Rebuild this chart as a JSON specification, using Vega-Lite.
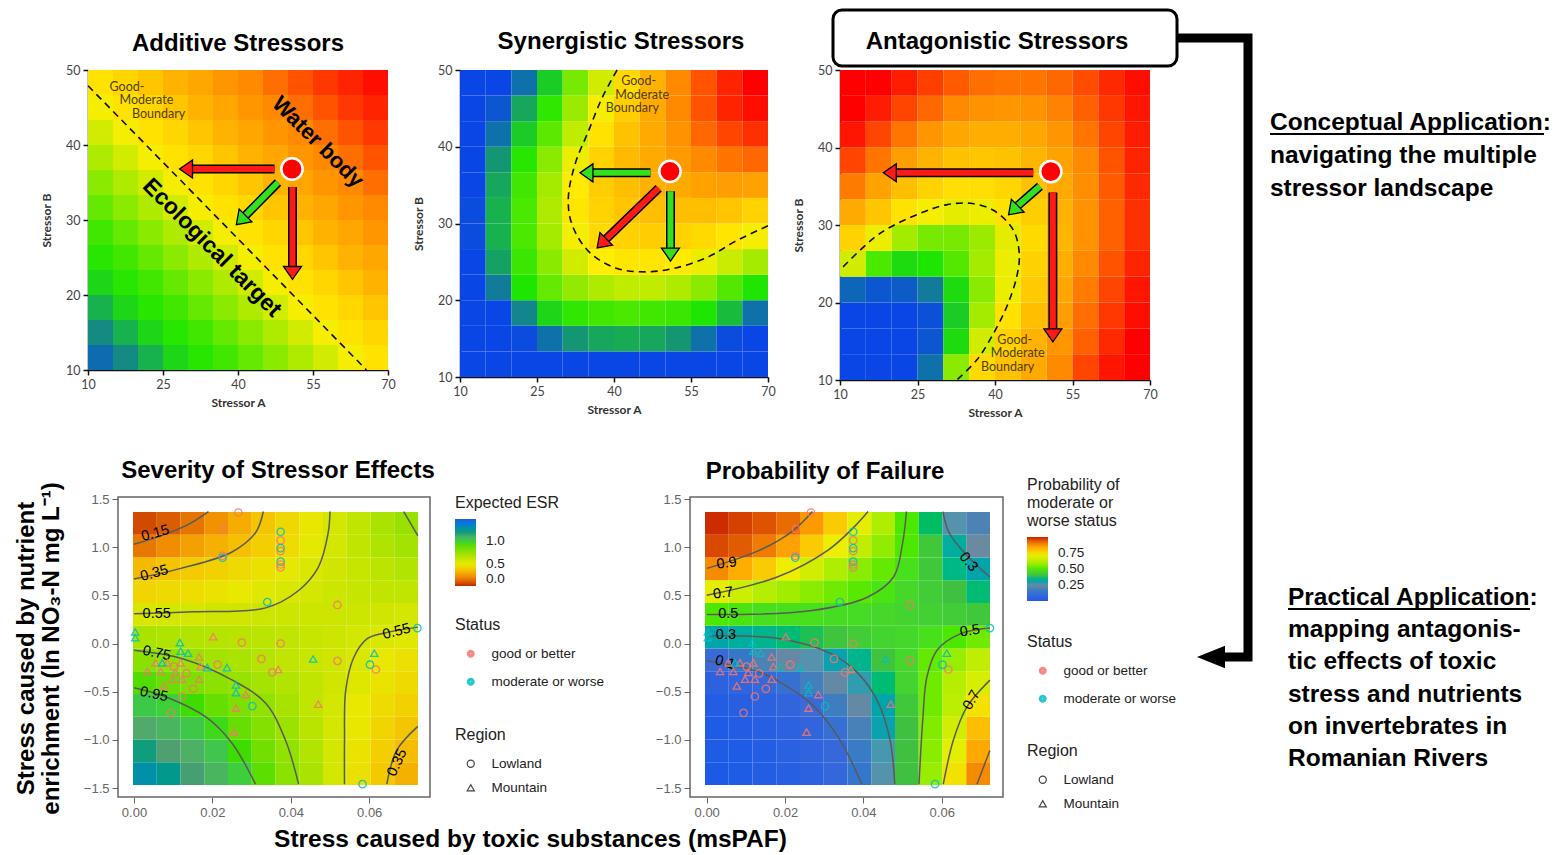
{
"$schema":"https://vega.github.io/schema/vega-lite/v6.json",
"background":"white",
"padding":{"left":13,"top":8,"right":0,"bottom":0},
"bounds":"flush",
"spacing":427,
"resolve":{"scale":{"color":"independent","fill":"independent","stroke":"independent","shape":"independent"}},
"config":{
 "font":"Liberation Sans",
 "view":{"stroke":null},
 "axis":{"grid":false,"labelFlush":false},
 "title":{"fontSize":24,"fontWeight":"bold","color":"#000","frame":"group","anchor":"middle","baseline":"alphabetic"},
 "legend":{"padding":0,"titleFontWeight":"normal","titleFontSize":16,"titleColor":"#222","labelFontSize":13.5,"labelColor":"#222","titleFont":"Liberation Sans","labelFont":"Liberation Sans","gradientStrokeWidth":0,"titleLimit":300,"labelLimit":300}
},
"datasets":{
"ad":[
{"i":0,"j":0,"v":0.07},{"i":1,"j":0,"v":0.13},{"i":2,"j":0,"v":0.2},{"i":3,"j":0,"v":0.27},{"i":4,"j":0,"v":0.31},{"i":5,"j":0,"v":0.34},{"i":6,"j":0,"v":0.38},{"i":7,"j":0,"v":0.42},{"i":8,"j":0,"v":0.46},{"i":9,"j":0,"v":0.5},{"i":10,"j":0,"v":0.54},{"i":11,"j":0,"v":0.58},
{"i":0,"j":1,"v":0.13},{"i":1,"j":1,"v":0.2},{"i":2,"j":1,"v":0.27},{"i":3,"j":1,"v":0.31},{"i":4,"j":1,"v":0.34},{"i":5,"j":1,"v":0.38},{"i":6,"j":1,"v":0.42},{"i":7,"j":1,"v":0.46},{"i":8,"j":1,"v":0.5},{"i":9,"j":1,"v":0.54},{"i":10,"j":1,"v":0.58},{"i":11,"j":1,"v":0.61},
{"i":0,"j":2,"v":0.2},{"i":1,"j":2,"v":0.27},{"i":2,"j":2,"v":0.31},{"i":3,"j":2,"v":0.34},{"i":4,"j":2,"v":0.38},{"i":5,"j":2,"v":0.42},{"i":6,"j":2,"v":0.46},{"i":7,"j":2,"v":0.5},{"i":8,"j":2,"v":0.54},{"i":9,"j":2,"v":0.58},{"i":10,"j":2,"v":0.61},{"i":11,"j":2,"v":0.65},
{"i":0,"j":3,"v":0.27},{"i":1,"j":3,"v":0.31},{"i":2,"j":3,"v":0.34},{"i":3,"j":3,"v":0.38},{"i":4,"j":3,"v":0.42},{"i":5,"j":3,"v":0.46},{"i":6,"j":3,"v":0.5},{"i":7,"j":3,"v":0.54},{"i":8,"j":3,"v":0.58},{"i":9,"j":3,"v":0.61},{"i":10,"j":3,"v":0.65},{"i":11,"j":3,"v":0.7},
{"i":0,"j":4,"v":0.31},{"i":1,"j":4,"v":0.34},{"i":2,"j":4,"v":0.38},{"i":3,"j":4,"v":0.42},{"i":4,"j":4,"v":0.46},{"i":5,"j":4,"v":0.5},{"i":6,"j":4,"v":0.54},{"i":7,"j":4,"v":0.58},{"i":8,"j":4,"v":0.61},{"i":9,"j":4,"v":0.65},{"i":10,"j":4,"v":0.7},{"i":11,"j":4,"v":0.73},
{"i":0,"j":5,"v":0.34},{"i":1,"j":5,"v":0.38},{"i":2,"j":5,"v":0.42},{"i":3,"j":5,"v":0.46},{"i":4,"j":5,"v":0.5},{"i":5,"j":5,"v":0.54},{"i":6,"j":5,"v":0.58},{"i":7,"j":5,"v":0.61},{"i":8,"j":5,"v":0.65},{"i":9,"j":5,"v":0.7},{"i":10,"j":5,"v":0.73},{"i":11,"j":5,"v":0.77},
{"i":0,"j":6,"v":0.38},{"i":1,"j":6,"v":0.42},{"i":2,"j":6,"v":0.46},{"i":3,"j":6,"v":0.5},{"i":4,"j":6,"v":0.54},{"i":5,"j":6,"v":0.58},{"i":6,"j":6,"v":0.61},{"i":7,"j":6,"v":0.65},{"i":8,"j":6,"v":0.7},{"i":9,"j":6,"v":0.73},{"i":10,"j":6,"v":0.77},{"i":11,"j":6,"v":0.8},
{"i":0,"j":7,"v":0.42},{"i":1,"j":7,"v":0.46},{"i":2,"j":7,"v":0.5},{"i":3,"j":7,"v":0.54},{"i":4,"j":7,"v":0.58},{"i":5,"j":7,"v":0.61},{"i":6,"j":7,"v":0.65},{"i":7,"j":7,"v":0.7},{"i":8,"j":7,"v":0.73},{"i":9,"j":7,"v":0.77},{"i":10,"j":7,"v":0.8},{"i":11,"j":7,"v":0.84},
{"i":0,"j":8,"v":0.46},{"i":1,"j":8,"v":0.5},{"i":2,"j":8,"v":0.54},{"i":3,"j":8,"v":0.58},{"i":4,"j":8,"v":0.61},{"i":5,"j":8,"v":0.65},{"i":6,"j":8,"v":0.7},{"i":7,"j":8,"v":0.73},{"i":8,"j":8,"v":0.77},{"i":9,"j":8,"v":0.8},{"i":10,"j":8,"v":0.84},{"i":11,"j":8,"v":0.88},
{"i":0,"j":9,"v":0.5},{"i":1,"j":9,"v":0.54},{"i":2,"j":9,"v":0.58},{"i":3,"j":9,"v":0.61},{"i":4,"j":9,"v":0.65},{"i":5,"j":9,"v":0.7},{"i":6,"j":9,"v":0.73},{"i":7,"j":9,"v":0.77},{"i":8,"j":9,"v":0.8},{"i":9,"j":9,"v":0.84},{"i":10,"j":9,"v":0.88},{"i":11,"j":9,"v":0.92},
{"i":0,"j":10,"v":0.54},{"i":1,"j":10,"v":0.58},{"i":2,"j":10,"v":0.61},{"i":3,"j":10,"v":0.65},{"i":4,"j":10,"v":0.7},{"i":5,"j":10,"v":0.73},{"i":6,"j":10,"v":0.77},{"i":7,"j":10,"v":0.8},{"i":8,"j":10,"v":0.84},{"i":9,"j":10,"v":0.88},{"i":10,"j":10,"v":0.92},{"i":11,"j":10,"v":0.95},
{"i":0,"j":11,"v":0.58},{"i":1,"j":11,"v":0.61},{"i":2,"j":11,"v":0.65},{"i":3,"j":11,"v":0.7},{"i":4,"j":11,"v":0.73},{"i":5,"j":11,"v":0.77},{"i":6,"j":11,"v":0.8},{"i":7,"j":11,"v":0.84},{"i":8,"j":11,"v":0.88},{"i":9,"j":11,"v":0.92},{"i":10,"j":11,"v":0.95},{"i":11,"j":11,"v":0.98}
],
"sy":[
{"i":0,"j":0,"v":0},{"i":1,"j":0,"v":0},{"i":2,"j":0,"v":0},{"i":3,"j":0,"v":0},{"i":4,"j":0,"v":0},{"i":5,"j":0,"v":0},{"i":6,"j":0,"v":0},{"i":7,"j":0,"v":0},{"i":8,"j":0,"v":0},{"i":9,"j":0,"v":0},{"i":10,"j":0,"v":0},{"i":11,"j":0,"v":0},
{"i":0,"j":1,"v":0},{"i":1,"j":1,"v":0},{"i":2,"j":1,"v":0.01},{"i":3,"j":1,"v":0.08},{"i":4,"j":1,"v":0.15},{"i":5,"j":1,"v":0.18},{"i":6,"j":1,"v":0.19},{"i":7,"j":1,"v":0.18},{"i":8,"j":1,"v":0.15},{"i":9,"j":1,"v":0.08},{"i":10,"j":1,"v":0.01},{"i":11,"j":1,"v":0},
{"i":0,"j":2,"v":0},{"i":1,"j":2,"v":0},{"i":2,"j":2,"v":0.12},{"i":3,"j":2,"v":0.27},{"i":4,"j":2,"v":0.32},{"i":5,"j":2,"v":0.34},{"i":6,"j":2,"v":0.35},{"i":7,"j":2,"v":0.34},{"i":8,"j":2,"v":0.33},{"i":9,"j":2,"v":0.3},{"i":10,"j":2,"v":0.22},{"i":11,"j":2,"v":0.08},
{"i":0,"j":3,"v":0},{"i":1,"j":3,"v":0.1},{"i":2,"j":3,"v":0.3},{"i":3,"j":3,"v":0.38},{"i":4,"j":3,"v":0.43},{"i":5,"j":3,"v":0.46},{"i":6,"j":3,"v":0.48},{"i":7,"j":3,"v":0.48},{"i":8,"j":3,"v":0.46},{"i":9,"j":3,"v":0.42},{"i":10,"j":3,"v":0.36},{"i":11,"j":3,"v":0.3},
{"i":0,"j":4,"v":0},{"i":1,"j":4,"v":0.17},{"i":2,"j":4,"v":0.33},{"i":3,"j":4,"v":0.42},{"i":4,"j":4,"v":0.5},{"i":5,"j":4,"v":0.55},{"i":6,"j":4,"v":0.57},{"i":7,"j":4,"v":0.57},{"i":8,"j":4,"v":0.56},{"i":9,"j":4,"v":0.53},{"i":10,"j":4,"v":0.49},{"i":11,"j":4,"v":0.45},
{"i":0,"j":5,"v":0.01},{"i":1,"j":5,"v":0.2},{"i":2,"j":5,"v":0.35},{"i":3,"j":5,"v":0.45},{"i":4,"j":5,"v":0.54},{"i":5,"j":5,"v":0.6},{"i":6,"j":5,"v":0.62},{"i":7,"j":5,"v":0.63},{"i":8,"j":5,"v":0.62},{"i":9,"j":5,"v":0.6},{"i":10,"j":5,"v":0.57},{"i":11,"j":5,"v":0.54},
{"i":0,"j":6,"v":0.01},{"i":1,"j":6,"v":0.2},{"i":2,"j":6,"v":0.35},{"i":3,"j":6,"v":0.46},{"i":4,"j":6,"v":0.57},{"i":5,"j":6,"v":0.62},{"i":6,"j":6,"v":0.65},{"i":7,"j":6,"v":0.67},{"i":8,"j":6,"v":0.67},{"i":9,"j":6,"v":0.67},{"i":10,"j":6,"v":0.65},{"i":11,"j":6,"v":0.62},
{"i":0,"j":7,"v":0},{"i":1,"j":7,"v":0.18},{"i":2,"j":7,"v":0.34},{"i":3,"j":7,"v":0.45},{"i":4,"j":7,"v":0.56},{"i":5,"j":7,"v":0.63},{"i":6,"j":7,"v":0.67},{"i":7,"j":7,"v":0.7},{"i":8,"j":7,"v":0.72},{"i":9,"j":7,"v":0.74},{"i":10,"j":7,"v":0.75},{"i":11,"j":7,"v":0.74},
{"i":0,"j":8,"v":0},{"i":1,"j":8,"v":0.15},{"i":2,"j":8,"v":0.31},{"i":3,"j":8,"v":0.42},{"i":4,"j":8,"v":0.53},{"i":5,"j":8,"v":0.62},{"i":6,"j":8,"v":0.68},{"i":7,"j":8,"v":0.72},{"i":8,"j":8,"v":0.76},{"i":9,"j":8,"v":0.8},{"i":10,"j":8,"v":0.83},{"i":11,"j":8,"v":0.85},
{"i":0,"j":9,"v":0},{"i":1,"j":9,"v":0.08},{"i":2,"j":9,"v":0.25},{"i":3,"j":9,"v":0.37},{"i":4,"j":9,"v":0.48},{"i":5,"j":9,"v":0.58},{"i":6,"j":9,"v":0.66},{"i":7,"j":9,"v":0.72},{"i":8,"j":9,"v":0.78},{"i":9,"j":9,"v":0.85},{"i":10,"j":9,"v":0.9},{"i":11,"j":9,"v":0.93},
{"i":0,"j":10,"v":0},{"i":1,"j":10,"v":0.03},{"i":2,"j":10,"v":0.18},{"i":3,"j":10,"v":0.32},{"i":4,"j":10,"v":0.44},{"i":5,"j":10,"v":0.54},{"i":6,"j":10,"v":0.63},{"i":7,"j":10,"v":0.72},{"i":8,"j":10,"v":0.8},{"i":9,"j":10,"v":0.88},{"i":10,"j":10,"v":0.95},{"i":11,"j":10,"v":0.98},
{"i":0,"j":11,"v":0},{"i":1,"j":11,"v":0},{"i":2,"j":11,"v":0.08},{"i":3,"j":11,"v":0.25},{"i":4,"j":11,"v":0.4},{"i":5,"j":11,"v":0.5},{"i":6,"j":11,"v":0.6},{"i":7,"j":11,"v":0.7},{"i":8,"j":11,"v":0.8},{"i":9,"j":11,"v":0.88},{"i":10,"j":11,"v":0.95},{"i":11,"j":11,"v":1}
],
"an":[
{"i":0,"j":0,"v":0},{"i":1,"j":0,"v":0},{"i":2,"j":0,"v":0},{"i":3,"j":0,"v":0.08},{"i":4,"j":0,"v":0.42},{"i":5,"j":0,"v":0.6},{"i":6,"j":0,"v":0.66},{"i":7,"j":0,"v":0.72},{"i":8,"j":0,"v":0.8},{"i":9,"j":0,"v":0.9},{"i":10,"j":0,"v":0.97},{"i":11,"j":0,"v":1},
{"i":0,"j":1,"v":0},{"i":1,"j":1,"v":0},{"i":2,"j":1,"v":0},{"i":3,"j":1,"v":0.03},{"i":4,"j":1,"v":0.28},{"i":5,"j":1,"v":0.5},{"i":6,"j":1,"v":0.62},{"i":7,"j":1,"v":0.7},{"i":8,"j":1,"v":0.77},{"i":9,"j":1,"v":0.86},{"i":10,"j":1,"v":0.94},{"i":11,"j":1,"v":1},
{"i":0,"j":2,"v":0},{"i":1,"j":2,"v":0},{"i":2,"j":2,"v":0},{"i":3,"j":2,"v":0.02},{"i":4,"j":2,"v":0.25},{"i":5,"j":2,"v":0.45},{"i":6,"j":2,"v":0.58},{"i":7,"j":2,"v":0.67},{"i":8,"j":2,"v":0.75},{"i":9,"j":2,"v":0.84},{"i":10,"j":2,"v":0.92},{"i":11,"j":2,"v":0.98},
{"i":0,"j":3,"v":0.06},{"i":1,"j":3,"v":0.03},{"i":2,"j":3,"v":0.04},{"i":3,"j":3,"v":0.1},{"i":4,"j":3,"v":0.28},{"i":5,"j":3,"v":0.42},{"i":6,"j":3,"v":0.53},{"i":7,"j":3,"v":0.64},{"i":8,"j":3,"v":0.73},{"i":9,"j":3,"v":0.82},{"i":10,"j":3,"v":0.9},{"i":11,"j":3,"v":0.97},
{"i":0,"j":4,"v":0.5},{"i":1,"j":4,"v":0.35},{"i":2,"j":4,"v":0.28},{"i":3,"j":4,"v":0.3},{"i":4,"j":4,"v":0.36},{"i":5,"j":4,"v":0.45},{"i":6,"j":4,"v":0.53},{"i":7,"j":4,"v":0.62},{"i":8,"j":4,"v":0.71},{"i":9,"j":4,"v":0.8},{"i":10,"j":4,"v":0.88},{"i":11,"j":4,"v":0.95},
{"i":0,"j":5,"v":0.62},{"i":1,"j":5,"v":0.53},{"i":2,"j":5,"v":0.45},{"i":3,"j":5,"v":0.4},{"i":4,"j":5,"v":0.4},{"i":5,"j":5,"v":0.44},{"i":6,"j":5,"v":0.52},{"i":7,"j":5,"v":0.6},{"i":8,"j":5,"v":0.69},{"i":9,"j":5,"v":0.78},{"i":10,"j":5,"v":0.86},{"i":11,"j":5,"v":0.93},
{"i":0,"j":6,"v":0.72},{"i":1,"j":6,"v":0.65},{"i":2,"j":6,"v":0.58},{"i":3,"j":6,"v":0.54},{"i":4,"j":6,"v":0.52},{"i":5,"j":6,"v":0.53},{"i":6,"j":6,"v":0.58},{"i":7,"j":6,"v":0.63},{"i":8,"j":6,"v":0.7},{"i":9,"j":6,"v":0.78},{"i":10,"j":6,"v":0.86},{"i":11,"j":6,"v":0.93},
{"i":0,"j":7,"v":0.82},{"i":1,"j":7,"v":0.74},{"i":2,"j":7,"v":0.67},{"i":3,"j":7,"v":0.62},{"i":4,"j":7,"v":0.59},{"i":5,"j":7,"v":0.59},{"i":6,"j":7,"v":0.61},{"i":7,"j":7,"v":0.66},{"i":8,"j":7,"v":0.72},{"i":9,"j":7,"v":0.79},{"i":10,"j":7,"v":0.87},{"i":11,"j":7,"v":0.94},
{"i":0,"j":8,"v":0.9},{"i":1,"j":8,"v":0.83},{"i":2,"j":8,"v":0.75},{"i":3,"j":8,"v":0.7},{"i":4,"j":8,"v":0.66},{"i":5,"j":8,"v":0.65},{"i":6,"j":8,"v":0.66},{"i":7,"j":8,"v":0.69},{"i":8,"j":8,"v":0.74},{"i":9,"j":8,"v":0.8},{"i":10,"j":8,"v":0.88},{"i":11,"j":8,"v":0.95},
{"i":0,"j":9,"v":0.97},{"i":1,"j":9,"v":0.9},{"i":2,"j":9,"v":0.83},{"i":3,"j":9,"v":0.77},{"i":4,"j":9,"v":0.73},{"i":5,"j":9,"v":0.71},{"i":6,"j":9,"v":0.71},{"i":7,"j":9,"v":0.73},{"i":8,"j":9,"v":0.77},{"i":9,"j":9,"v":0.83},{"i":10,"j":9,"v":0.9},{"i":11,"j":9,"v":0.96},
{"i":0,"j":10,"v":1},{"i":1,"j":10,"v":0.96},{"i":2,"j":10,"v":0.9},{"i":3,"j":10,"v":0.85},{"i":4,"j":10,"v":0.8},{"i":5,"j":10,"v":0.78},{"i":6,"j":10,"v":0.77},{"i":7,"j":10,"v":0.78},{"i":8,"j":10,"v":0.81},{"i":9,"j":10,"v":0.86},{"i":10,"j":10,"v":0.92},{"i":11,"j":10,"v":0.97},
{"i":0,"j":11,"v":1},{"i":1,"j":11,"v":1},{"i":2,"j":11,"v":0.96},{"i":3,"j":11,"v":0.91},{"i":4,"j":11,"v":0.87},{"i":5,"j":11,"v":0.84},{"i":6,"j":11,"v":0.83},{"i":7,"j":11,"v":0.83},{"i":8,"j":11,"v":0.85},{"i":9,"j":11,"v":0.89},{"i":10,"j":11,"v":0.94},{"i":11,"j":11,"v":0.98}
],
"eh":[
{"i":0,"j":0,"v":1.3},{"i":1,"j":0,"v":1.24},{"i":2,"j":0,"v":1.17},{"i":3,"j":0,"v":1.08},{"i":4,"j":0,"v":1.0},{"i":5,"j":0,"v":0.9},{"i":6,"j":0,"v":0.78},{"i":7,"j":0,"v":0.68},{"i":8,"j":0,"v":0.56},{"i":9,"j":0,"v":0.47},{"i":10,"j":0,"v":0.37},{"i":11,"j":0,"v":0.3},
{"i":0,"j":1,"v":1.2},{"i":1,"j":1,"v":1.16},{"i":2,"j":1,"v":1.1},{"i":3,"j":1,"v":1.03},{"i":4,"j":1,"v":0.95},{"i":5,"j":1,"v":0.85},{"i":6,"j":1,"v":0.76},{"i":7,"j":1,"v":0.66},{"i":8,"j":1,"v":0.56},{"i":9,"j":1,"v":0.48},{"i":10,"j":1,"v":0.39},{"i":11,"j":1,"v":0.33},
{"i":0,"j":2,"v":1.12},{"i":1,"j":2,"v":1.08},{"i":2,"j":2,"v":1.02},{"i":3,"j":2,"v":0.96},{"i":4,"j":2,"v":0.88},{"i":5,"j":2,"v":0.8},{"i":6,"j":2,"v":0.73},{"i":7,"j":2,"v":0.64},{"i":8,"j":2,"v":0.56},{"i":9,"j":2,"v":0.49},{"i":10,"j":2,"v":0.42},{"i":11,"j":2,"v":0.36},
{"i":0,"j":3,"v":1.02},{"i":1,"j":3,"v":0.99},{"i":2,"j":3,"v":0.95},{"i":3,"j":3,"v":0.88},{"i":4,"j":3,"v":0.82},{"i":5,"j":3,"v":0.76},{"i":6,"j":3,"v":0.69},{"i":7,"j":3,"v":0.62},{"i":8,"j":3,"v":0.56},{"i":9,"j":3,"v":0.5},{"i":10,"j":3,"v":0.45},{"i":11,"j":3,"v":0.41},
{"i":0,"j":4,"v":0.92},{"i":1,"j":4,"v":0.87},{"i":2,"j":4,"v":0.82},{"i":3,"j":4,"v":0.78},{"i":4,"j":4,"v":0.74},{"i":5,"j":4,"v":0.7},{"i":6,"j":4,"v":0.66},{"i":7,"j":4,"v":0.62},{"i":8,"j":4,"v":0.57},{"i":9,"j":4,"v":0.53},{"i":10,"j":4,"v":0.48},{"i":11,"j":4,"v":0.44},
{"i":0,"j":5,"v":0.79},{"i":1,"j":5,"v":0.76},{"i":2,"j":5,"v":0.74},{"i":3,"j":5,"v":0.71},{"i":4,"j":5,"v":0.68},{"i":5,"j":5,"v":0.65},{"i":6,"j":5,"v":0.62},{"i":7,"j":5,"v":0.59},{"i":8,"j":5,"v":0.57},{"i":9,"j":5,"v":0.54},{"i":10,"j":5,"v":0.5},{"i":11,"j":5,"v":0.47},
{"i":0,"j":6,"v":0.68},{"i":1,"j":6,"v":0.67},{"i":2,"j":6,"v":0.66},{"i":3,"j":6,"v":0.65},{"i":4,"j":6,"v":0.64},{"i":5,"j":6,"v":0.63},{"i":6,"j":6,"v":0.62},{"i":7,"j":6,"v":0.6},{"i":8,"j":6,"v":0.58},{"i":9,"j":6,"v":0.56},{"i":10,"j":6,"v":0.54},{"i":11,"j":6,"v":0.52},
{"i":0,"j":7,"v":0.55},{"i":1,"j":7,"v":0.56},{"i":2,"j":7,"v":0.56},{"i":3,"j":7,"v":0.57},{"i":4,"j":7,"v":0.57},{"i":5,"j":7,"v":0.58},{"i":6,"j":7,"v":0.58},{"i":7,"j":7,"v":0.58},{"i":8,"j":7,"v":0.58},{"i":9,"j":7,"v":0.58},{"i":10,"j":7,"v":0.57},{"i":11,"j":7,"v":0.56},
{"i":0,"j":8,"v":0.42},{"i":1,"j":8,"v":0.44},{"i":2,"j":8,"v":0.46},{"i":3,"j":8,"v":0.48},{"i":4,"j":8,"v":0.5},{"i":5,"j":8,"v":0.52},{"i":6,"j":8,"v":0.54},{"i":7,"j":8,"v":0.56},{"i":8,"j":8,"v":0.58},{"i":9,"j":8,"v":0.6},{"i":10,"j":8,"v":0.61},{"i":11,"j":8,"v":0.62},
{"i":0,"j":9,"v":0.32},{"i":1,"j":9,"v":0.35},{"i":2,"j":9,"v":0.38},{"i":3,"j":9,"v":0.41},{"i":4,"j":9,"v":0.44},{"i":5,"j":9,"v":0.47},{"i":6,"j":9,"v":0.51},{"i":7,"j":9,"v":0.54},{"i":8,"j":9,"v":0.57},{"i":9,"j":9,"v":0.6},{"i":10,"j":9,"v":0.63},{"i":11,"j":9,"v":0.66},
{"i":0,"j":10,"v":0.16},{"i":1,"j":10,"v":0.21},{"i":2,"j":10,"v":0.26},{"i":3,"j":10,"v":0.3},{"i":4,"j":10,"v":0.34},{"i":5,"j":10,"v":0.39},{"i":6,"j":10,"v":0.45},{"i":7,"j":10,"v":0.51},{"i":8,"j":10,"v":0.56},{"i":9,"j":10,"v":0.62},{"i":10,"j":10,"v":0.67},{"i":11,"j":10,"v":0.71},
{"i":0,"j":11,"v":0.06},{"i":1,"j":11,"v":0.1},{"i":2,"j":11,"v":0.15},{"i":3,"j":11,"v":0.22},{"i":4,"j":11,"v":0.29},{"i":5,"j":11,"v":0.36},{"i":6,"j":11,"v":0.43},{"i":7,"j":11,"v":0.49},{"i":8,"j":11,"v":0.56},{"i":9,"j":11,"v":0.62},{"i":10,"j":11,"v":0.68},{"i":11,"j":11,"v":0.74}
],
"ph":[
{"i":0,"j":0,"v":0},{"i":1,"j":0,"v":0.01},{"i":2,"j":0,"v":0.02},{"i":3,"j":0,"v":0.03},{"i":4,"j":0,"v":0.05},{"i":5,"j":0,"v":0.08},{"i":6,"j":0,"v":0.14},{"i":7,"j":0,"v":0.27},{"i":8,"j":0,"v":0.4},{"i":9,"j":0,"v":0.58},{"i":10,"j":0,"v":0.74},{"i":11,"j":0,"v":0.88},
{"i":0,"j":1,"v":0.01},{"i":1,"j":1,"v":0.01},{"i":2,"j":1,"v":0.02},{"i":3,"j":1,"v":0.04},{"i":4,"j":1,"v":0.06},{"i":5,"j":1,"v":0.09},{"i":6,"j":1,"v":0.16},{"i":7,"j":1,"v":0.28},{"i":8,"j":1,"v":0.4},{"i":9,"j":1,"v":0.56},{"i":10,"j":1,"v":0.7},{"i":11,"j":1,"v":0.84},
{"i":0,"j":2,"v":0.01},{"i":1,"j":2,"v":0.02},{"i":2,"j":2,"v":0.03},{"i":3,"j":2,"v":0.05},{"i":4,"j":2,"v":0.07},{"i":5,"j":2,"v":0.12},{"i":6,"j":2,"v":0.19},{"i":7,"j":2,"v":0.3},{"i":8,"j":2,"v":0.4},{"i":9,"j":2,"v":0.55},{"i":10,"j":2,"v":0.67},{"i":11,"j":2,"v":0.8},
{"i":0,"j":3,"v":0.02},{"i":1,"j":3,"v":0.03},{"i":2,"j":3,"v":0.05},{"i":3,"j":3,"v":0.07},{"i":4,"j":3,"v":0.1},{"i":5,"j":3,"v":0.17},{"i":6,"j":3,"v":0.24},{"i":7,"j":3,"v":0.31},{"i":8,"j":3,"v":0.42},{"i":9,"j":3,"v":0.53},{"i":10,"j":3,"v":0.63},{"i":11,"j":3,"v":0.74},
{"i":0,"j":4,"v":0.05},{"i":1,"j":4,"v":0.07},{"i":2,"j":4,"v":0.09},{"i":3,"j":4,"v":0.12},{"i":4,"j":4,"v":0.18},{"i":5,"j":4,"v":0.24},{"i":6,"j":4,"v":0.29},{"i":7,"j":4,"v":0.37},{"i":8,"j":4,"v":0.45},{"i":9,"j":4,"v":0.53},{"i":10,"j":4,"v":0.62},{"i":11,"j":4,"v":0.68},
{"i":0,"j":5,"v":0.1},{"i":1,"j":5,"v":0.15},{"i":2,"j":5,"v":0.2},{"i":3,"j":5,"v":0.24},{"i":4,"j":5,"v":0.27},{"i":5,"j":5,"v":0.3},{"i":6,"j":5,"v":0.35},{"i":7,"j":5,"v":0.41},{"i":8,"j":5,"v":0.46},{"i":9,"j":5,"v":0.52},{"i":10,"j":5,"v":0.58},{"i":11,"j":5,"v":0.64},
{"i":0,"j":6,"v":0.31},{"i":1,"j":6,"v":0.33},{"i":2,"j":6,"v":0.35},{"i":3,"j":6,"v":0.37},{"i":4,"j":6,"v":0.39},{"i":5,"j":6,"v":0.41},{"i":6,"j":6,"v":0.43},{"i":7,"j":6,"v":0.45},{"i":8,"j":6,"v":0.46},{"i":9,"j":6,"v":0.48},{"i":10,"j":6,"v":0.5},{"i":11,"j":6,"v":0.53},
{"i":0,"j":7,"v":0.5},{"i":1,"j":7,"v":0.49},{"i":2,"j":7,"v":0.48},{"i":3,"j":7,"v":0.48},{"i":4,"j":7,"v":0.48},{"i":5,"j":7,"v":0.47},{"i":6,"j":7,"v":0.47},{"i":7,"j":7,"v":0.46},{"i":8,"j":7,"v":0.45},{"i":9,"j":7,"v":0.44},{"i":10,"j":7,"v":0.43},{"i":11,"j":7,"v":0.42},
{"i":0,"j":8,"v":0.7},{"i":1,"j":8,"v":0.66},{"i":2,"j":8,"v":0.62},{"i":3,"j":8,"v":0.59},{"i":4,"j":8,"v":0.56},{"i":5,"j":8,"v":0.53},{"i":6,"j":8,"v":0.51},{"i":7,"j":8,"v":0.49},{"i":8,"j":8,"v":0.46},{"i":9,"j":8,"v":0.43},{"i":10,"j":8,"v":0.4},{"i":11,"j":8,"v":0.37},
{"i":0,"j":9,"v":0.88},{"i":1,"j":9,"v":0.83},{"i":2,"j":9,"v":0.78},{"i":3,"j":9,"v":0.72},{"i":4,"j":9,"v":0.67},{"i":5,"j":9,"v":0.61},{"i":6,"j":9,"v":0.56},{"i":7,"j":9,"v":0.52},{"i":8,"j":9,"v":0.48},{"i":9,"j":9,"v":0.42},{"i":10,"j":9,"v":0.36},{"i":11,"j":9,"v":0.31},
{"i":0,"j":10,"v":0.96},{"i":1,"j":10,"v":0.94},{"i":2,"j":10,"v":0.9},{"i":3,"j":10,"v":0.85},{"i":4,"j":10,"v":0.78},{"i":5,"j":10,"v":0.72},{"i":6,"j":10,"v":0.64},{"i":7,"j":10,"v":0.57},{"i":8,"j":10,"v":0.5},{"i":9,"j":10,"v":0.42},{"i":10,"j":10,"v":0.33},{"i":11,"j":10,"v":0.25},
{"i":0,"j":11,"v":0.99},{"i":1,"j":11,"v":0.97},{"i":2,"j":11,"v":0.95},{"i":3,"j":11,"v":0.92},{"i":4,"j":11,"v":0.86},{"i":5,"j":11,"v":0.78},{"i":6,"j":11,"v":0.7},{"i":7,"j":11,"v":0.61},{"i":8,"j":11,"v":0.5},{"i":9,"j":11,"v":0.38},{"i":10,"j":11,"v":0.27},{"i":11,"j":11,"v":0.2}
],
"pts":[
{"x":0.0266,"y":1.36,"s":"good or better","r":"Lowland"},
{"x":0.0228,"y":1.19,"s":"good or better","r":"Lowland"},
{"x":0.0226,"y":0.91,"s":"good or better","r":"Lowland"},
{"x":0.0226,"y":0.89,"s":"moderate or worse","r":"Lowland"},
{"x":0.0374,"y":1.16,"s":"moderate or worse","r":"Lowland"},
{"x":0.0374,"y":1.07,"s":"good or better","r":"Lowland"},
{"x":0.0374,"y":0.99,"s":"moderate or worse","r":"Lowland"},
{"x":0.0374,"y":0.96,"s":"good or better","r":"Lowland"},
{"x":0.0374,"y":0.85,"s":"moderate or worse","r":"Lowland"},
{"x":0.0374,"y":0.82,"s":"good or better","r":"Lowland"},
{"x":0.0374,"y":0.79,"s":"good or better","r":"Lowland"},
{"x":0.034,"y":0.43,"s":"moderate or worse","r":"Lowland"},
{"x":0.0519,"y":0.4,"s":"good or better","r":"Lowland"},
{"x":0.0275,"y":0.01,"s":"good or better","r":"Lowland"},
{"x":0.0374,"y":0.0,"s":"good or better","r":"Lowland"},
{"x":0.0325,"y":-0.16,"s":"good or better","r":"Lowland"},
{"x":0.0213,"y":-0.22,"s":"good or better","r":"Lowland"},
{"x":0.0353,"y":-0.3,"s":"good or better","r":"Lowland"},
{"x":0.0519,"y":-0.18,"s":"good or better","r":"Lowland"},
{"x":0.0617,"y":-0.27,"s":"good or better","r":"Lowland"},
{"x":0.0602,"y":-0.22,"s":"moderate or worse","r":"Lowland"},
{"x":0.0723,"y":0.16,"s":"moderate or worse","r":"Lowland"},
{"x":0.0583,"y":-1.46,"s":"moderate or worse","r":"Lowland"},
{"x":0.0302,"y":-0.65,"s":"moderate or worse","r":"Lowland"},
{"x":0.0094,"y":-0.72,"s":"good or better","r":"Lowland"},
{"x":0.0123,"y":-0.55,"s":"good or better","r":"Lowland"},
{"x":0.0151,"y":-0.47,"s":"good or better","r":"Lowland"},
{"x":0.0134,"y":-0.31,"s":"good or better","r":"Lowland"},
{"x":0.0102,"y":-0.24,"s":"good or better","r":"Lowland"},
{"x":0.0003,"y":0.12,"s":"moderate or worse","r":"Mountain"},
{"x":0.0003,"y":0.06,"s":"moderate or worse","r":"Mountain"},
{"x":0.0202,"y":0.07,"s":"good or better","r":"Mountain"},
{"x":0.0117,"y":0.01,"s":"moderate or worse","r":"Mountain"},
{"x":0.0138,"y":-0.1,"s":"moderate or worse","r":"Mountain"},
{"x":0.0119,"y":-0.08,"s":"moderate or worse","r":"Mountain"},
{"x":0.0166,"y":-0.14,"s":"good or better","r":"Mountain"},
{"x":0.0055,"y":-0.2,"s":"good or better","r":"Mountain"},
{"x":0.0034,"y":-0.29,"s":"good or better","r":"Mountain"},
{"x":0.0068,"y":-0.29,"s":"good or better","r":"Mountain"},
{"x":0.0085,"y":-0.2,"s":"good or better","r":"Mountain"},
{"x":0.0119,"y":-0.2,"s":"good or better","r":"Mountain"},
{"x":0.0106,"y":-0.3,"s":"good or better","r":"Mountain"},
{"x":0.0098,"y":-0.37,"s":"good or better","r":"Mountain"},
{"x":0.0123,"y":-0.37,"s":"good or better","r":"Mountain"},
{"x":0.0077,"y":-0.44,"s":"good or better","r":"Mountain"},
{"x":0.0166,"y":-0.37,"s":"good or better","r":"Mountain"},
{"x":0.017,"y":-0.24,"s":"good or better","r":"Mountain"},
{"x":0.0187,"y":-0.25,"s":"moderate or worse","r":"Mountain"},
{"x":0.0237,"y":-0.25,"s":"moderate or worse","r":"Mountain"},
{"x":0.0072,"y":-0.2,"s":"moderate or worse","r":"Mountain"},
{"x":0.026,"y":-0.43,"s":"moderate or worse","r":"Mountain"},
{"x":0.026,"y":-0.51,"s":"moderate or worse","r":"Mountain"},
{"x":0.0285,"y":-0.53,"s":"good or better","r":"Mountain"},
{"x":0.026,"y":-0.67,"s":"good or better","r":"Mountain"},
{"x":0.0255,"y":-0.92,"s":"good or better","r":"Mountain"},
{"x":0.0368,"y":-0.27,"s":"good or better","r":"Mountain"},
{"x":0.0457,"y":-0.16,"s":"moderate or worse","r":"Mountain"},
{"x":0.0613,"y":-0.1,"s":"moderate or worse","r":"Mountain"},
{"x":0.047,"y":-0.63,"s":"good or better","r":"Mountain"}
],
"ec":[
{"k":"a","o":0,"x":0,"y":1.03},{"k":"a","o":1,"x":0.007,"y":1.12},{"k":"a","o":2,"x":0.014,"y":1.24},{"k":"a","o":3,"x":0.019,"y":1.37},
{"k":"b","o":0,"x":0,"y":0.67},{"k":"b","o":1,"x":0.012,"y":0.78},{"k":"b","o":2,"x":0.025,"y":0.95},{"k":"b","o":3,"x":0.031,"y":1.15},{"k":"b","o":4,"x":0.033,"y":1.37},
{"k":"c","o":0,"x":0,"y":0.31},{"k":"c","o":1,"x":0.015,"y":0.33},{"k":"c","o":2,"x":0.0336,"y":0.37},{"k":"c","o":3,"x":0.042,"y":0.55},{"k":"c","o":4,"x":0.047,"y":0.79},{"k":"c","o":5,"x":0.0495,"y":1.14},{"k":"c","o":6,"x":0.05,"y":1.37},
{"k":"d","o":0,"x":0.0724,"y":0.17},{"k":"d","o":1,"x":0.064,"y":0.11},{"k":"d","o":2,"x":0.0595,"y":0.05},{"k":"d","o":3,"x":0.056,"y":-0.15},{"k":"d","o":4,"x":0.054,"y":-0.49},{"k":"d","o":5,"x":0.0537,"y":-1.0},{"k":"d","o":6,"x":0.0537,"y":-1.46},
{"k":"e","o":0,"x":0,"y":-0.07},{"k":"e","o":1,"x":0.0126,"y":-0.16},{"k":"e","o":2,"x":0.0251,"y":-0.38},{"k":"e","o":3,"x":0.0336,"y":-0.62},{"k":"e","o":4,"x":0.0386,"y":-1.0},{"k":"e","o":5,"x":0.042,"y":-1.46},
{"k":"f","o":0,"x":0.0688,"y":1.37},{"k":"f","o":1,"x":0.0724,"y":1.12},
{"k":"g","o":0,"x":0,"y":-0.46},{"k":"g","o":1,"x":0.0085,"y":-0.56},{"k":"g","o":2,"x":0.0186,"y":-0.77},{"k":"g","o":3,"x":0.0251,"y":-1.04},{"k":"g","o":4,"x":0.031,"y":-1.46},
{"k":"h","o":0,"x":0.0724,"y":-0.86},{"k":"h","o":1,"x":0.067,"y":-1.11},{"k":"h","o":2,"x":0.0645,"y":-1.46}
],
"pc":[
{"k":"a","o":0,"x":0,"y":0.78},{"k":"a","o":1,"x":0.0136,"y":0.97},{"k":"a","o":2,"x":0.022,"y":1.17},{"k":"a","o":3,"x":0.027,"y":1.37},
{"k":"b","o":0,"x":0.0723,"y":-1.11},{"k":"b","o":1,"x":0.069,"y":-1.46},
{"k":"c","o":0,"x":0,"y":0.5},{"k":"c","o":1,"x":0.018,"y":0.69},{"k":"c","o":2,"x":0.031,"y":0.97},{"k":"c","o":3,"x":0.0374,"y":1.2},{"k":"c","o":4,"x":0.0412,"y":1.37},
{"k":"d","o":0,"x":0.0723,"y":-0.38},{"k":"d","o":1,"x":0.0664,"y":-0.66},{"k":"d","o":2,"x":0.063,"y":-1.0},{"k":"d","o":3,"x":0.0604,"y":-1.46},
{"k":"e","o":0,"x":0,"y":0.3},{"k":"e","o":1,"x":0.0264,"y":0.34},{"k":"e","o":2,"x":0.041,"y":0.48},{"k":"e","o":3,"x":0.0477,"y":0.69},{"k":"e","o":4,"x":0.05,"y":1.04},{"k":"e","o":5,"x":0.051,"y":1.37},
{"k":"f","o":0,"x":0.0723,"y":0.16},{"k":"f","o":1,"x":0.0647,"y":0.1},{"k":"f","o":2,"x":0.0588,"y":-0.07},{"k":"f","o":3,"x":0.0562,"y":-0.35},{"k":"f","o":4,"x":0.0552,"y":-0.77},{"k":"f","o":5,"x":0.0542,"y":-1.46},
{"k":"g","o":0,"x":0,"y":0.08},{"k":"g","o":1,"x":0.0187,"y":0.05},{"k":"g","o":2,"x":0.0315,"y":-0.1},{"k":"g","o":3,"x":0.0384,"y":-0.3},{"k":"g","o":4,"x":0.0435,"y":-0.59},{"k":"g","o":5,"x":0.0468,"y":-1.0},{"k":"g","o":6,"x":0.048,"y":-1.46},
{"k":"h","o":0,"x":0.0603,"y":1.37},{"k":"h","o":1,"x":0.062,"y":1.14},{"k":"h","o":2,"x":0.067,"y":0.89},{"k":"h","o":3,"x":0.0723,"y":0.69},
{"k":"i","o":0,"x":0,"y":-0.18},{"k":"i","o":1,"x":0.0136,"y":-0.3},{"k":"i","o":2,"x":0.0187,"y":-0.4},{"k":"i","o":3,"x":0.0271,"y":-0.64},{"k":"i","o":4,"x":0.034,"y":-1.0},{"k":"i","o":5,"x":0.0396,"y":-1.46}
]
},
"vconcat":[
{"hconcat":[
{
 "width":300,"height":300,
 "title":{"text":"Additive Stressors","offset":8},
 "resolve":{"scale":{"x":"independent","y":"independent"}},
 "layer":[
  {"data":{"name":"ad"},"mark":{"type":"rect"},"encoding":{
   "x":{"field":"i","type":"ordinal","axis":null,"scale":{"paddingInner":0,"paddingOuter":0}},
   "y":{"field":"j","type":"ordinal","axis":null,"sort":"descending","scale":{"paddingInner":0,"paddingOuter":0}},
   "fill":{"field":"v","type":"quantitative","legend":null,"scale":{"domain":[0,0.3,0.55,0.8,1],"range":["#0a46e6","#1ee600","#ffee00","#ff8a00","#ff0000"],"interpolate":"rgb"}}}},
  {"encoding":{
    "x":{"field":"x","type":"quantitative","scale":{"domain":[10,70],"nice":false,"zero":false},"axis":{"orient":"bottom","values":[10,25,40,55,70],"title":"Stressor A","domainColor":"#111","domainWidth":1.5,"tickColor":"#111","tickWidth":1.5,"tickSize":5,"labelFont":"Lato","labelFontSize":12.5,"labelColor":"#444","labelPadding":3,"titleFont":"Lato","titleFontSize":12,"titleFontWeight":"bold","titleColor":"#333","titlePadding":7}},
    "y":{"field":"y","type":"quantitative","scale":{"domain":[10,50],"nice":false,"zero":false},"axis":{"orient":"left","values":[10,20,30,40,50],"title":"Stressor B","domainColor":"#111","domainWidth":1.5,"tickColor":"#111","tickWidth":1.5,"tickSize":5,"labelFont":"Lato","labelFontSize":12.5,"labelColor":"#444","labelPadding":3,"titleFont":"Lato","titleFontSize":12,"titleFontWeight":"bold","titleColor":"#333","titlePadding":12}}},
   "layer":[
    {"data":{"values":[{"x":10,"y":47.9,"o":0},{"x":65.7,"y":10,"o":1}]},"mark":{"type":"line","color":"#111","strokeWidth":1.6,"strokeDash":[7,5]},"encoding":{"order":{"field":"o"}}},
    {"data":{"values":[{"x":14.3,"y":47.7,"t":"Good-"},{"x":16.3,"y":46.0,"t":"Moderate"},{"x":18.8,"y":44.2,"t":"Boundary"}]},"mark":{"type":"text","align":"left","baseline":"middle","font":"Lato","fontSize":12.5,"color":"#4f4100"},"encoding":{"text":{"field":"t"}}},
    {"data":{"values":[{"x":56,"y":40.4,"t":"Water body"}]},"mark":{"type":"text","angle":45,"fontSize":22,"fontWeight":"bold","color":"#000"},"encoding":{"text":{"field":"t"}}},
    {"data":{"values":[{"x":34.8,"y":26.3,"t":"Ecological target"}]},"mark":{"type":"text","angle":45,"fontSize":23,"fontWeight":"bold","color":"#000"},"encoding":{"text":{"field":"t"}}},
    {"data":{"values":[{"x":47.3,"y":36.8,"x2":30.9,"y2":36.8,"k":"worse"},{"x":48,"y":35,"x2":41.5,"y2":30.6,"k":"better"},{"x":50.9,"y":34.4,"x2":50.9,"y2":23.8,"k":"worse"}]},"mark":{"type":"rule","color":"#000","strokeWidth":9,"strokeCap":"butt"},"encoding":{"x2":{"field":"x2"},"y2":{"field":"y2"}}},
    {"data":{"values":[{"x":47.3,"y":36.8,"x2":30.9,"y2":36.8,"k":"worse"},{"x":48,"y":35,"x2":41.5,"y2":30.6,"k":"better"},{"x":50.9,"y":34.4,"x2":50.9,"y2":23.8,"k":"worse"}]},"mark":{"type":"rule","strokeWidth":6,"strokeCap":"butt"},"encoding":{"x2":{"field":"x2"},"y2":{"field":"y2"},"color":{"field":"k","type":"nominal","legend":null,"scale":{"domain":["worse","better"],"range":["#ff1a1a","#33e01e"]}}}},
    {"data":{"values":[{"x":30.9,"y":36.8,"k":"worse"}]},"mark":{"type":"point","shape":"M0,-1L1.44,0L0,1Z","size":324,"angle":180,"filled":true,"stroke":"#000","strokeWidth":1.3,"opacity":1},"encoding":{"color":{"field":"k","type":"nominal","legend":null}}},
    {"data":{"values":[{"x":41.5,"y":30.6,"k":"better"}]},"mark":{"type":"point","shape":"M0,-1L1.44,0L0,1Z","size":324,"angle":135,"filled":true,"stroke":"#000","strokeWidth":1.3,"opacity":1},"encoding":{"color":{"field":"k","type":"nominal","legend":null}}},
    {"data":{"values":[{"x":50.9,"y":23.8,"k":"worse"}]},"mark":{"type":"point","shape":"M0,-1L1.44,0L0,1Z","size":324,"angle":90,"filled":true,"stroke":"#000","strokeWidth":1.3,"opacity":1},"encoding":{"color":{"field":"k","type":"nominal","legend":null}}},
    {"data":{"values":[{"x":50.8,"y":36.8}]},"mark":{"type":"point","shape":"circle","size":452,"filled":true,"fill":"#ff0000","stroke":"#ffffff","strokeWidth":2.5,"opacity":1}}
   ]}
 ]
},
{
 "width":308,"height":307,
 "title":{"text":"Synergistic Stressors","offset":10,"dx":7},
 "resolve":{"scale":{"x":"independent","y":"independent"}},
 "layer":[
  {"data":{"name":"sy"},"mark":{"type":"rect"},"encoding":{
   "x":{"field":"i","type":"ordinal","axis":null,"scale":{"paddingInner":0,"paddingOuter":0}},
   "y":{"field":"j","type":"ordinal","axis":null,"sort":"descending","scale":{"paddingInner":0,"paddingOuter":0}},
   "fill":{"field":"v","type":"quantitative","legend":null,"scale":{"domain":[0,0.3,0.55,0.8,1],"range":["#0a46e6","#1ee600","#ffee00","#ff8a00","#ff0000"],"interpolate":"rgb"}}}},
  {"encoding":{
    "x":{"field":"x","type":"quantitative","scale":{"domain":[10,70],"nice":false,"zero":false},"axis":{"orient":"bottom","values":[10,25,40,55,70],"title":"Stressor A","domainColor":"#111","domainWidth":1.5,"tickColor":"#111","tickWidth":1.5,"tickSize":5,"labelFont":"Lato","labelFontSize":12.5,"labelColor":"#444","labelPadding":3,"titleFont":"Lato","titleFontSize":12,"titleFontWeight":"bold","titleColor":"#333","titlePadding":7}},
    "y":{"field":"y","type":"quantitative","scale":{"domain":[10,50],"nice":false,"zero":false},"axis":{"orient":"left","values":[10,20,30,40,50],"title":"Stressor B","domainColor":"#111","domainWidth":1.5,"tickColor":"#111","tickWidth":1.5,"tickSize":5,"labelFont":"Lato","labelFontSize":12.5,"labelColor":"#444","labelPadding":3,"titleFont":"Lato","titleFontSize":12,"titleFontWeight":"bold","titleColor":"#333","titlePadding":12}}},
   "layer":[
    {"data":{"values":[{"x":40.6,"y":50,"o":0},{"x":37.7,"y":46.4,"o":1},{"x":35.0,"y":42.0,"o":2},{"x":32.4,"y":37.7,"o":3},{"x":31.1,"y":33.3,"o":4},{"x":31.8,"y":29.9,"o":5},{"x":35.0,"y":26.4,"o":6},{"x":40.3,"y":24.2,"o":7},{"x":46.1,"y":23.7,"o":8},{"x":52.0,"y":24.2,"o":9},{"x":58.5,"y":25.7,"o":10},{"x":63.7,"y":27.7,"o":11},{"x":70,"y":29.7,"o":12}]},"mark":{"type":"line","color":"#111","strokeWidth":1.6,"strokeDash":[7,5],"interpolate":"catmull-rom"},"encoding":{"order":{"field":"o"}}},
    {"data":{"values":[{"x":41.4,"y":48.6,"t":"Good-"},{"x":40.25,"y":46.8,"t":"Moderate"},{"x":38.4,"y":45.1,"t":"Boundary"}]},"mark":{"type":"text","align":"left","baseline":"middle","font":"Lato","fontSize":12.5,"color":"#4f4100"},"encoding":{"text":{"field":"t"}}},
    {"data":{"values":[{"x":47.1,"y":36.6,"x2":35.9,"y2":36.6,"k":"better"},{"x":48.7,"y":34.6,"x2":38.5,"y2":28.0,"k":"worse"},{"x":51,"y":34.2,"x2":51,"y2":26.8,"k":"better"}]},"mark":{"type":"rule","color":"#000","strokeWidth":9,"strokeCap":"butt"},"encoding":{"x2":{"field":"x2"},"y2":{"field":"y2"}}},
    {"data":{"values":[{"x":47.1,"y":36.6,"x2":35.9,"y2":36.6,"k":"better"},{"x":48.7,"y":34.6,"x2":38.5,"y2":28.0,"k":"worse"},{"x":51,"y":34.2,"x2":51,"y2":26.8,"k":"better"}]},"mark":{"type":"rule","strokeWidth":6,"strokeCap":"butt"},"encoding":{"x2":{"field":"x2"},"y2":{"field":"y2"},"color":{"field":"k","type":"nominal","legend":null,"scale":{"domain":["worse","better"],"range":["#ff1a1a","#33e01e"]}}}},
    {"data":{"values":[{"x":35.9,"y":36.6,"k":"better"}]},"mark":{"type":"point","shape":"M0,-1L1.44,0L0,1Z","size":324,"angle":180,"filled":true,"stroke":"#000","strokeWidth":1.3,"opacity":1},"encoding":{"color":{"field":"k","type":"nominal","legend":null}}},
    {"data":{"values":[{"x":38.5,"y":28.0,"k":"worse"}]},"mark":{"type":"point","shape":"M0,-1L1.44,0L0,1Z","size":324,"angle":135,"filled":true,"stroke":"#000","strokeWidth":1.3,"opacity":1},"encoding":{"color":{"field":"k","type":"nominal","legend":null}}},
    {"data":{"values":[{"x":51,"y":26.8,"k":"better"}]},"mark":{"type":"point","shape":"M0,-1L1.44,0L0,1Z","size":324,"angle":90,"filled":true,"stroke":"#000","strokeWidth":1.3,"opacity":1},"encoding":{"color":{"field":"k","type":"nominal","legend":null}}},
    {"data":{"values":[{"x":50.9,"y":36.8}]},"mark":{"type":"point","shape":"circle","size":452,"filled":true,"fill":"#ff0000","stroke":"#ffffff","strokeWidth":2.5,"opacity":1}}
   ]}
 ]
},
{
 "width":310,"height":310,
 "title":{"text":"Antagonistic Stressors","offset":10,"dx":2},
 "resolve":{"scale":{"x":"independent","y":"independent"}},
 "layer":[
  {"data":{"name":"an"},"mark":{"type":"rect"},"encoding":{
   "x":{"field":"i","type":"ordinal","axis":null,"scale":{"paddingInner":0,"paddingOuter":0}},
   "y":{"field":"j","type":"ordinal","axis":null,"sort":"descending","scale":{"paddingInner":0,"paddingOuter":0}},
   "fill":{"field":"v","type":"quantitative","legend":null,"scale":{"domain":[0,0.3,0.55,0.8,1],"range":["#0a46e6","#1ee600","#ffee00","#ff8a00","#ff0000"],"interpolate":"rgb"}}}},
  {"encoding":{
    "x":{"field":"x","type":"quantitative","scale":{"domain":[10,70],"nice":false,"zero":false},"axis":{"orient":"bottom","values":[10,25,40,55,70],"title":"Stressor A","domainColor":"#111","domainWidth":1.5,"tickColor":"#111","tickWidth":1.5,"tickSize":5,"labelFont":"Lato","labelFontSize":12.5,"labelColor":"#444","labelPadding":3,"titleFont":"Lato","titleFontSize":12,"titleFontWeight":"bold","titleColor":"#333","titlePadding":7}},
    "y":{"field":"y","type":"quantitative","scale":{"domain":[10,50],"nice":false,"zero":false},"axis":{"orient":"left","values":[10,20,30,40,50],"title":"Stressor B","domainColor":"#111","domainWidth":1.5,"tickColor":"#111","tickWidth":1.5,"tickSize":5,"labelFont":"Lato","labelFontSize":12.5,"labelColor":"#444","labelPadding":3,"titleFont":"Lato","titleFontSize":12,"titleFontWeight":"bold","titleColor":"#333","titlePadding":12}}},
   "layer":[
    {"data":{"values":[{"x":10.6,"y":24.6,"o":0},{"x":17.7,"y":28.9,"o":1},{"x":25.5,"y":31.5,"o":2},{"x":30.6,"y":32.6,"o":3},{"x":35.2,"y":32.8,"o":4},{"x":39.7,"y":31.9,"o":5},{"x":43.5,"y":29.4,"o":6},{"x":44.7,"y":26.3,"o":7},{"x":44.2,"y":23.3,"o":8},{"x":42.3,"y":19.5,"o":9},{"x":39.7,"y":16.0,"o":10},{"x":36.5,"y":12.6,"o":11},{"x":32.6,"y":10,"o":12}]},"mark":{"type":"line","color":"#111","strokeWidth":1.6,"strokeDash":[7,5],"interpolate":"catmull-rom"},"encoding":{"order":{"field":"o"}}},
    {"data":{"values":[{"x":40.45,"y":15.16,"t":"Good-"},{"x":39.2,"y":13.44,"t":"Moderate"},{"x":37.3,"y":11.72,"t":"Boundary"}]},"mark":{"type":"text","align":"left","baseline":"middle","font":"Lato","fontSize":12.5,"color":"#4f4100"},"encoding":{"text":{"field":"t"}}},
    {"data":{"values":[{"x":47.4,"y":36.75,"x2":20.9,"y2":36.75,"k":"worse"},{"x":48.7,"y":35,"x2":44.4,"y2":32.5,"k":"better"},{"x":51.2,"y":34.2,"x2":51.2,"y2":16.6,"k":"worse"}]},"mark":{"type":"rule","color":"#000","strokeWidth":9,"strokeCap":"butt"},"encoding":{"x2":{"field":"x2"},"y2":{"field":"y2"}}},
    {"data":{"values":[{"x":47.4,"y":36.75,"x2":20.9,"y2":36.75,"k":"worse"},{"x":48.7,"y":35,"x2":44.4,"y2":32.5,"k":"better"},{"x":51.2,"y":34.2,"x2":51.2,"y2":16.6,"k":"worse"}]},"mark":{"type":"rule","strokeWidth":6,"strokeCap":"butt"},"encoding":{"x2":{"field":"x2"},"y2":{"field":"y2"},"color":{"field":"k","type":"nominal","legend":null,"scale":{"domain":["worse","better"],"range":["#ff1a1a","#33e01e"]}}}},
    {"data":{"values":[{"x":20.9,"y":36.75,"k":"worse"}]},"mark":{"type":"point","shape":"M0,-1L1.44,0L0,1Z","size":324,"angle":180,"filled":true,"stroke":"#000","strokeWidth":1.3,"opacity":1},"encoding":{"color":{"field":"k","type":"nominal","legend":null}}},
    {"data":{"values":[{"x":44.4,"y":32.5,"k":"better"}]},"mark":{"type":"point","shape":"M0,-1L1.44,0L0,1Z","size":324,"angle":135,"filled":true,"stroke":"#000","strokeWidth":1.3,"opacity":1},"encoding":{"color":{"field":"k","type":"nominal","legend":null}}},
    {"data":{"values":[{"x":51.2,"y":16.6,"k":"worse"}]},"mark":{"type":"point","shape":"M0,-1L1.44,0L0,1Z","size":324,"angle":90,"filled":true,"stroke":"#000","strokeWidth":1.3,"opacity":1},"encoding":{"color":{"field":"k","type":"nominal","legend":null}}},
    {"data":{"values":[{"x":50.8,"y":36.9}]},"mark":{"type":"point","shape":"circle","size":452,"filled":true,"fill":"#ff0000","stroke":"#ffffff","strokeWidth":2.5,"opacity":1}}
   ]}
 ]
},
{
 "width":330,"height":310,
 "encoding":{
  "x":{"field":"x","type":"quantitative","scale":{"domain":[0,1],"nice":false,"zero":false},"axis":null},
  "y":{"field":"y","type":"quantitative","scale":{"domain":[0,1],"nice":false,"zero":false},"axis":null}},
 "layer":[
  {"data":{"values":[{"x":-1.17879,"x2":-0.13636,"y":1.19355,"y2":1.0129}]},"mark":{"type":"rect","filled":false,"stroke":"#000","strokeWidth":3,"cornerRadius":9},"encoding":{"x2":{"field":"x2"},"y2":{"field":"y2"}}},
  {"data":{"values":[{"x":-0.13636,"y":1.10323,"o":0},{"x":0.07879,"y":1.10323,"o":1},{"x":0.07879,"y":-0.89355,"o":2},{"x":0.00606,"y":-0.89355,"o":3}]},"mark":{"type":"line","color":"#000","strokeWidth":9,"strokeJoin":"miter","strokeCap":"butt"},"encoding":{"order":{"field":"o"}}},
  {"data":{"values":[{"x":-0.03333,"y":-0.89355}]},"mark":{"type":"point","shape":"M-1,0L1,-0.8L1,0.8Z","size":784,"filled":true,"fill":"#000","strokeWidth":0,"opacity":1}},
  {"data":{"values":[{"x":0.14545,"y":0.8065,"t":"Conceptual Application:\nnavigating the multiple\nstressor landscape"}]},"mark":{"type":"text","align":"left","baseline":"alphabetic","fontSize":24.5,"fontWeight":"bold","lineBreak":"\n","lineHeight":33,"color":"#000"},"encoding":{"text":{"field":"t"}}},
  {"data":{"values":[{"x":0.14545,"x2":0.9758,"y":0.7935}]},"mark":{"type":"rule","color":"#000","strokeWidth":2},"encoding":{"x2":{"field":"x2"}}}
 ]
}
],"bounds":"flush","spacing":72,"resolve":{"scale":{"color":"independent","fill":"independent","stroke":"independent","shape":"independent"}}},
{"hconcat":[
{"width":1,"height":1,"data":{"values":[]},"mark":"point"},
{"hconcat":[
{
 "width":312,"height":300,
 "view":{"stroke":"#666","strokeWidth":1.5},
 "title":{"text":"Severity of Stressor Effects","offset":-1,"dx":4},
 "resolve":{"scale":{"x":"independent","y":"independent"}},
 "layer":[
  {"data":{"name":"eh"},"mark":{"type":"rect"},"encoding":{
   "x":{"field":"i","type":"ordinal","axis":null,"scale":{"paddingInner":0,"paddingOuter":0.5684,"align":0.5556}},
   "y":{"field":"j","type":"ordinal","axis":null,"sort":"descending","scale":{"paddingInner":0,"paddingOuter":0.5934,"align":0.5556}},
   "fill":{"field":"v","type":"quantitative","scale":{"domain":[0,0.2,0.35,0.5,0.65,0.95,1.15,1.5],"range":["#c02800","#f08a00","#f5c400","#e8e800","#b4e400","#3fdc00","#5aa070","#2a55e0"]},
    "legend":{"title":"Expected ESR","orient":"none","legendX":337,"legendY":-2,"direction":"vertical","gradientLength":67,"gradientThickness":21,"values":[0,0.5,1],"format":".1f","labelOffset":10,"titlePadding":8}}}},
  {"encoding":{
    "x":{"field":"x","type":"quantitative","scale":{"domain":[-0.004082,0.07551],"nice":false,"zero":false},"axis":{"orient":"bottom","values":[0,0.02,0.04,0.06],"format":".2f","domain":false,"tickColor":"#666","tickSize":6,"labelColor":"#666","labelFontSize":13,"labelPadding":3,"title":"Stress caused by toxic substances (msPAF)","titleFontSize":24.5,"titleFontWeight":"bold","titleColor":"#000","titleX":412,"titleY":30,"titleBaseline":"top","titleAlign":"center"}},
    "y":{"field":"y","type":"quantitative","scale":{"domain":[-1.5934,1.5208],"nice":false,"zero":false},"axis":{"orient":"left","values":[-1.5,-1,-0.5,0,0.5,1,1.5],"format":".1f","domain":false,"tickColor":"#666","tickSize":6,"labelColor":"#666","labelFontSize":13,"labelPadding":3,"title":["Stress caused by nutrient","enrichment (ln NO₃-N mg L⁻¹)"],"titleFontSize":24,"titleFontWeight":"bold","titleColor":"#000","titleLineHeight":25,"titleX":-80,"titleY":151,"titleAngle":-90,"titleAlign":"center","titleBaseline":"bottom"}}},
   "layer":[
    {"data":{"name":"ec"},"mark":{"type":"line","color":"#5a5a5a","strokeWidth":1.5,"interpolate":"catmull-rom"},"encoding":{"detail":{"field":"k"},"order":{"field":"o"}}},
    {"data":{"values":[{"x":0.00544,"y":1.142,"t":"0.15"},{"x":0.00518,"y":0.727,"t":"0.35"},{"x":0.067,"y":0.121,"t":"0.55"}]},"mark":{"type":"text","angle":-15,"fontSize":14.5,"color":"#000"},"encoding":{"text":{"field":"t"}}},
    {"data":{"values":[{"x":0.00579,"y":0.311,"t":"0.55"}]},"mark":{"type":"text","fontSize":14.5,"color":"#000"},"encoding":{"text":{"field":"t"}}},
    {"data":{"values":[{"x":0.00579,"y":-0.104,"t":"0.75"},{"x":0.0051,"y":-0.529,"t":"0.95"}]},"mark":{"type":"text","angle":12,"fontSize":14.5,"color":"#000"},"encoding":{"text":{"field":"t"}}},
    {"data":{"values":[{"x":0.0672,"y":-1.238,"t":"0.35"}]},"mark":{"type":"text","angle":-65,"fontSize":14.5,"color":"#000"},"encoding":{"text":{"field":"t"}}},
    {"data":{"name":"pts"},"mark":{"type":"point","filled":false,"strokeWidth":1.3,"size":55,"opacity":0.85},"encoding":{
      "stroke":{"field":"s","type":"nominal","scale":{"domain":["good or better","moderate or worse"],"range":["#F8766D","#00BFC4"]},"legend":{"title":"Status","orient":"none","legendX":337,"legendY":120,"symbolType":"circle","symbolSize":12,"symbolStrokeWidth":4.5,"symbolOffset":9,"labelOffset":14,"rowPadding":6,"titlePadding":14}},
      "shape":{"field":"r","type":"nominal","scale":{"domain":["Lowland","Mountain"],"range":["circle","triangle-up"]},"legend":{"title":"Region","orient":"none","legendX":337,"legendY":230,"symbolStrokeColor":"#222","symbolFillColor":"transparent","symbolSize":50,"symbolStrokeWidth":1.2,"symbolOffset":9,"labelOffset":14,"rowPadding":9,"titlePadding":14}}}}
   ]}
 ]
},
{
 "width":313,"height":300,
 "view":{"stroke":"#666","strokeWidth":1.5},
 "title":{"text":"Probability of Failure","offset":-7,"dx":-21.5},
 "resolve":{"scale":{"x":"independent","y":"independent"}},
 "layer":[
  {"data":{"name":"ph"},"mark":{"type":"rect"},"encoding":{
   "x":{"field":"i","type":"ordinal","axis":null,"scale":{"paddingInner":0,"paddingOuter":0.5895,"align":0.5357}},
   "y":{"field":"j","type":"ordinal","axis":null,"sort":"descending","scale":{"paddingInner":0,"paddingOuter":0.5934,"align":0.5556}},
   "fill":{"field":"v","type":"quantitative","scale":{"domain":[0,0.1,0.25,0.4,0.5,0.6,0.72,0.85,1],"range":["#1c5ae6","#3a6ad8","#6a8aa0","#40c040","#4ce800","#a8ee00","#eeee00","#ffa200","#c81e00"]},
    "legend":{"title":["Probability of","moderate or","worse status"],"orient":"none","legendX":337,"legendY":-20,"direction":"vertical","gradientLength":64,"gradientThickness":21,"values":[0.25,0.5,0.75],"format":".2f","titleLineHeight":18,"labelOffset":10,"titlePadding":8}}}},
  {"encoding":{
    "x":{"field":"x","type":"quantitative","scale":{"domain":[-0.004264,0.075645],"nice":false,"zero":false},"axis":{"orient":"bottom","values":[0,0.02,0.04,0.06],"format":".2f","domain":false,"tickColor":"#666","tickSize":6,"labelColor":"#666","labelFontSize":13,"labelPadding":3,"title":null}},
    "y":{"field":"y","type":"quantitative","scale":{"domain":[-1.5934,1.5208],"nice":false,"zero":false},"axis":{"orient":"left","values":[-1.5,-1,-0.5,0,0.5,1,1.5],"format":".1f","domain":false,"tickColor":"#666","tickSize":6,"labelColor":"#666","labelFontSize":13,"labelPadding":3,"title":null}}},
   "layer":[
    {"data":{"name":"pc"},"mark":{"type":"line","color":"#5a5a5a","strokeWidth":1.5,"interpolate":"catmull-rom"},"encoding":{"detail":{"field":"k"},"order":{"field":"o"}}},
    {"data":{"values":[{"x":0.0051,"y":0.831,"t":"0.9"},{"x":0.0042,"y":0.519,"t":"0.7"},{"x":0.0672,"y":0.128,"t":"0.5"}]},"mark":{"type":"text","angle":-8,"fontSize":14.5,"color":"#000"},"encoding":{"text":{"field":"t"}}},
    {"data":{"values":[{"x":0.0055,"y":0.311,"t":"0.5"},{"x":0.0049,"y":0.093,"t":"0.3"}]},"mark":{"type":"text","fontSize":14.5,"color":"#000"},"encoding":{"text":{"field":"t"}}},
    {"data":{"values":[{"x":0.0047,"y":-0.2,"t":"0.1"}]},"mark":{"type":"text","angle":15,"fontSize":14.5,"color":"#000"},"encoding":{"text":{"field":"t"}}},
    {"data":{"values":[{"x":0.0668,"y":0.844,"t":"0.3"}]},"mark":{"type":"text","angle":50,"fontSize":14.5,"color":"#000"},"encoding":{"text":{"field":"t"}}},
    {"data":{"values":[{"x":0.0677,"y":-0.588,"t":"0.7"}]},"mark":{"type":"text","angle":-60,"fontSize":14.5,"color":"#000"},"encoding":{"text":{"field":"t"}}},
    {"data":{"name":"pts"},"mark":{"type":"point","filled":false,"strokeWidth":1.3,"size":55,"opacity":0.85},"encoding":{
      "stroke":{"field":"s","type":"nominal","scale":{"domain":["good or better","moderate or worse"],"range":["#F8766D","#00BFC4"]},"legend":{"title":"Status","orient":"none","legendX":337,"legendY":137,"symbolType":"circle","symbolSize":12,"symbolStrokeWidth":4.5,"symbolOffset":9,"labelOffset":14,"rowPadding":6,"titlePadding":14}},
      "shape":{"field":"r","type":"nominal","scale":{"domain":["Lowland","Mountain"],"range":["circle","triangle-up"]},"legend":{"title":"Region","orient":"none","legendX":337,"legendY":246,"symbolStrokeColor":"#222","symbolFillColor":"transparent","symbolSize":50,"symbolStrokeWidth":1.2,"symbolOffset":9,"labelOffset":14,"rowPadding":9,"titlePadding":14}}}}
   ]}
 ]
},
{
 "width":290,"height":300,
 "encoding":{
  "x":{"field":"x","type":"quantitative","scale":{"domain":[0,1],"nice":false,"zero":false},"axis":null},
  "y":{"field":"y","type":"quantitative","scale":{"domain":[0,1],"nice":false,"zero":false},"axis":null}},
 "layer":[
  {"data":{"values":[{"x":0.0862,"y":0.64,"t":"Practical Application:\nmapping antagonis-\ntic effects of toxic\nstress and nutrients\non invertebrates in\nRomanian Rivers"}]},"mark":{"type":"text","align":"left","baseline":"alphabetic","fontSize":24.5,"fontWeight":"bold","lineBreak":"\n","lineHeight":32.2,"color":"#000"},"encoding":{"text":{"field":"t"}}},
  {"data":{"values":[{"x":0.0862,"x2":0.9207,"y":0.6267}]},"mark":{"type":"rule","color":"#000","strokeWidth":2},"encoding":{"x2":{"field":"x2"}}}
 ]
}
],"bounds":"flush","spacing":260,"resolve":{"scale":{"color":"independent","fill":"independent","stroke":"independent","shape":"independent"}}}
],"bounds":"flush","spacing":29,"resolve":{"scale":{"color":"independent","fill":"independent","stroke":"independent","shape":"independent"}}}
]
}
